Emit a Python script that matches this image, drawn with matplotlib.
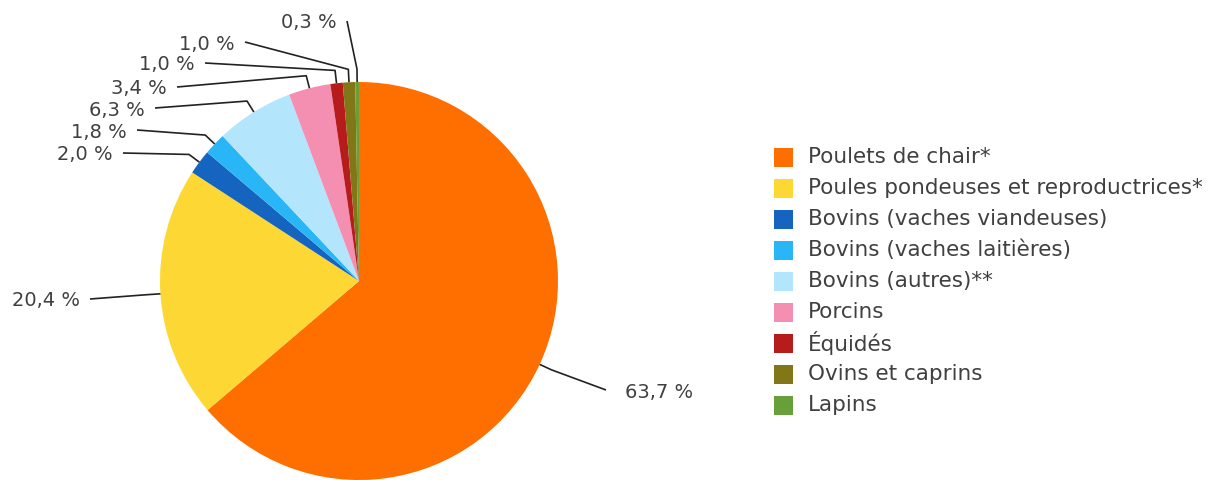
import numpy as np
import matplotlib
matplotlib.use("Agg")
import matplotlib.pyplot as plt
from matplotlib.patches import Rectangle

categories = ["Poulets de chair*", "Poules pondeuses et reproductrices*",
              "Bovins (vaches viandeuses)", "Bovins (vaches laitières)",
              "Bovins (autres)**", "Porcins", "Équidés", "Ovins et caprins", "Lapins"]
values = [63.7, 20.4, 2.0, 1.8, 6.3, 3.4, 1.0, 1.0, 0.3]
labels = ["63,7 %", "20,4 %", "2,0 %", "1,8 %", "6,3 %", "3,4 %", "1,0 %", "1,0 %", "0,3 %"]
colors = ["#FF6F00", "#FDD835", "#1565C0", "#29B6F6", "#B3E5FC",
          "#F48FB1", "#B71C1C", "#827717", "#689F38"]

W, H = 1213, 480
fig = plt.figure(figsize=(W / 100, H / 100), dpi=100)
ax = fig.add_axes([0, 0, 1, 1])
ax.set_xlim(0, W)
ax.set_ylim(0, H)
ax.set_aspect("equal")
ax.axis("off")

cx, cy_pix, R = 359, 281, 199
cy = H - cy_pix
wedges, _ = ax.pie(values, colors=colors, startangle=90, counterclock=False,
                   center=(cx, cy), radius=R, frame=True,
                   wedgeprops=dict(linewidth=0))
ax.set_xlim(0, W)
ax.set_ylim(0, H)
ax.axis("off")

# label anchor points (pixel coords, y from top) and alignment
label_pos = [(606, 390, "left"), (90, 299, "right"), (123, 153, "right"),
             (137, 130, "right"), (155, 108, "right"), (177, 87, "right"),
             (205, 63, "right"), (245, 42, "right"), (347, 21, "right")]

txtcol = "#404040"
for w, lab, (lx, ly, ha) in zip(wedges, labels, label_pos):
    ang = np.deg2rad((w.theta1 + w.theta2) / 2)
    ex, ey = cx + R * np.cos(ang), cy + R * np.sin(ang)
    bx, by = cx + R * 1.065 * np.cos(ang), cy + R * 1.065 * np.sin(ang)
    ax.plot([ex, bx, lx], [ey, by, H - ly], color="#222222", lw=1.2,
            solid_capstyle="butt")
    tx = lx + 19 if ha == "left" else lx - 10
    ax.text(tx, H - ly - 2, lab, ha=ha, va="center", fontsize=14,
            color=txtcol, family="DejaVu Sans")

# legend
ly0, dy = 157, 31
for i, (cat, col) in enumerate(zip(categories, colors)):
    y = H - (ly0 + i * dy)
    ax.add_patch(Rectangle((774, y - 9.5), 19, 19, facecolor=col, edgecolor="none"))
    ax.text(808, y, cat, ha="left", va="center", fontsize=15.5,
            color=txtcol, family="DejaVu Sans")

fig.savefig("out.png", dpi=100)
